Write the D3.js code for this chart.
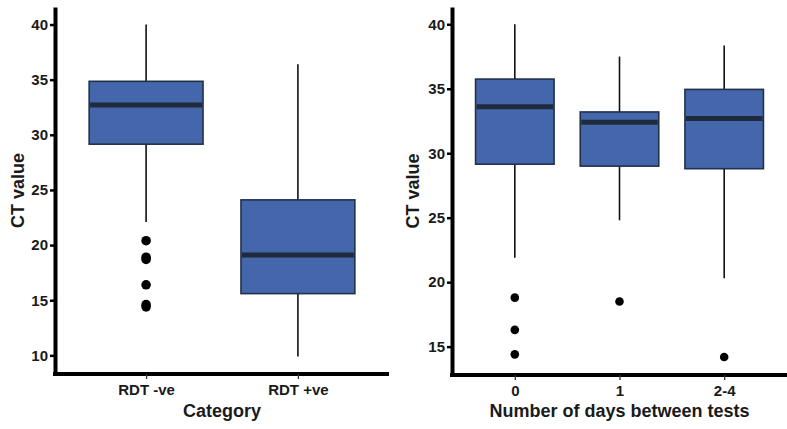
<!DOCTYPE html>
<html>
<head>
<meta charset="utf-8">
<script src="https://cdn.jsdelivr.net/npm/d3@7"></script>
<style>
  html, body { margin: 0; padding: 0; background: #fff; }
  svg { display: block; }
  text { font-family: "Liberation Sans", Arial, sans-serif; font-weight: bold; fill: #1a1a1a; }
</style>
</head>
<body>
<svg id="chart" width="787" height="429"></svg>
<script>
// ---- Panel A: by RDT category ----
const catsA = ["RDT -ve", "RDT +ve"];
const q1A = [29.15, 15.6];
const medA = [32.7, 19.1];
const q3A = [34.85, 24.1];
const loA = [22.1, 9.9];
const hiA = [40.0, 36.4];
const outA = [[20.4, 18.9, 18.7, 16.4, 14.6, 14.4], []];
const ticksA = [10, 15, 20, 25, 30, 35, 40];

// ---- Panel B: by number of days between tests ----
const catsB = ["0", "1", "2-4"];
const q1B = [29.15, 29.0, 28.8];
const medB = [33.6, 32.4, 32.7];
const q3B = [35.75, 33.2, 34.95];
const loB = [21.9, 24.8, 20.3];
const hiB = [40.0, 37.5, 38.35];
const outB = [[18.8, 16.3, 14.4], [18.5], [14.2]];
const ticksB = [15, 20, 25, 30, 35, 40];

const svg = d3.select("#chart");
const FILL = "#4466aa", EDGE = "#22304a", MED = "#1f2a3c", INK = "#111";

function panel(cfg) {
  const g = svg.append("g");
  const x = d3.scalePoint().domain(cfg.cats).range([cfg.x0, cfg.x1]).padding(0.6);
  const y = d3.scaleLinear().domain(cfg.ydom).range([cfg.y1, cfg.y0]);
  const bw = x.step() * 0.75;
  const data = cfg.cats.map((c, i) => ({
    c, q1: cfg.q1[i], med: cfg.med[i], q3: cfg.q3[i], lo: cfg.lo[i], hi: cfg.hi[i], out: cfg.out[i]
  }));

  const b = g.selectAll("g.box").data(data).join("g").attr("class", "box");
  // whiskers
  b.append("line").attr("x1", d => x(d.c)).attr("x2", d => x(d.c))
    .attr("y1", d => y(d.hi)).attr("y2", d => y(d.q3))
    .attr("stroke", INK).attr("stroke-width", 1.6);
  b.append("line").attr("x1", d => x(d.c)).attr("x2", d => x(d.c))
    .attr("y1", d => y(d.q1)).attr("y2", d => y(d.lo))
    .attr("stroke", INK).attr("stroke-width", 1.6);
  // boxes
  b.append("rect").attr("x", d => x(d.c) - bw / 2).attr("width", bw)
    .attr("y", d => y(d.q3)).attr("height", d => y(d.q1) - y(d.q3))
    .attr("fill", FILL).attr("stroke", EDGE).attr("stroke-width", 1.6);
  // medians
  b.append("line").attr("x1", d => x(d.c) - bw / 2 + 1).attr("x2", d => x(d.c) + bw / 2 - 1)
    .attr("y1", d => y(d.med)).attr("y2", d => y(d.med))
    .attr("stroke", MED).attr("stroke-width", 5);
  // outliers
  b.selectAll("circle").data(d => d.out.map(v => ({ c: d.c, v }))).join("circle")
    .attr("cx", d => x(d.c)).attr("cy", d => y(d.v)).attr("r", cfg.r).attr("fill", "#000");

  // y axis
  const ya = g.append("g").attr("transform", `translate(${cfg.x0},0)`)
    .call(d3.axisLeft(y).tickValues(cfg.ticks).tickSize(5).tickSizeOuter(0).tickPadding(2));
  ya.select(".domain").attr("stroke", "#000").attr("stroke-width", 4);
  ya.selectAll(".tick line").attr("stroke", "#000").attr("stroke-width", 2.5);
  ya.selectAll(".tick text").style("font-size", "15px").attr("fill", "#1a1a1a");

  // x axis
  const xa = g.append("g").attr("transform", `translate(0,${cfg.y1})`)
    .call(d3.axisBottom(x).tickSize(5).tickSizeOuter(0).tickPadding(5));
  xa.select(".domain").attr("stroke", "#000").attr("stroke-width", 4)
    .attr("d", `M${cfg.x0 - 2},0H${cfg.x1}`);
  xa.selectAll(".tick line").attr("stroke", "#333").attr("stroke-width", 1.3);
  xa.selectAll(".tick text").style("font-size", "15px").attr("fill", "#1a1a1a");

  // titles
  g.append("text").attr("x", (cfg.x0 + cfg.x1) / 2).attr("y", 417)
    .attr("text-anchor", "middle").style("font-size", "18px").text(cfg.xtitle);
  g.append("text").attr("transform", `translate(${cfg.ytx},${(cfg.y0 + cfg.y1) / 2}) rotate(-90)`)
    .attr("text-anchor", "middle").style("font-size", "18px").text("CT value");
}

panel({ cats: catsA, q1: q1A, med: medA, q3: q3A, lo: loA, hi: hiA, out: outA, ticks: ticksA,
  x0: 55, x1: 389, y0: 7, y1: 374, ydom: [8.31, 41.59], r: 4.8, xtitle: "Category", ytx: 24 });
panel({ cats: catsB, q1: q1B, med: medB, q3: q3B, lo: loB, hi: hiB, out: outB, ticks: ticksB,
  x0: 452, x1: 787, y0: 7, y1: 375, ydom: [12.8, 41.34], r: 4.3, xtitle: "Number of days between tests", ytx: 419 });
</script>
</body>
</html>
